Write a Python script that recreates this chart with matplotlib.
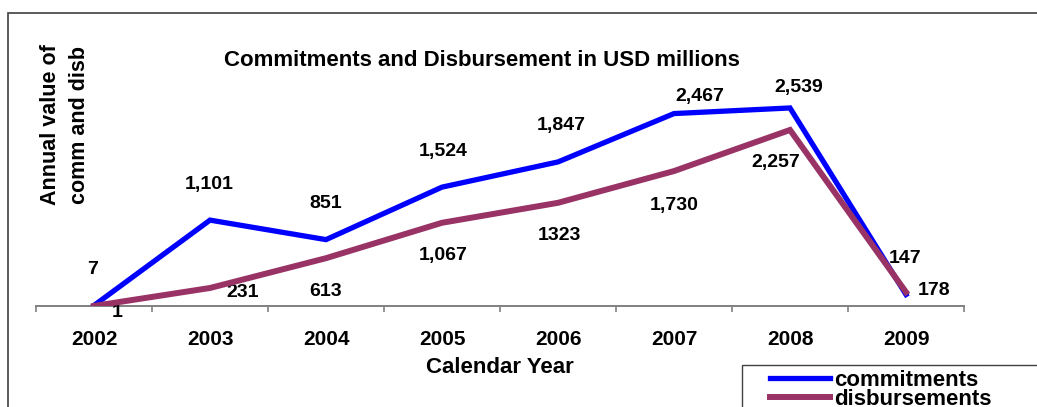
import matplotlib.pyplot as plt
from matplotlib.patches import Rectangle

plt.rcParams["font.family"] = ["Liberation Sans", "DejaVu Sans"]
plt.rcParams["font.weight"] = "bold"

years = ["2002", "2003", "2004", "2005", "2006", "2007", "2008", "2009"]
commitments = [7, 1101, 851, 1524, 1847, 2467, 2539, 147]
disbursements = [1, 231, 613, 1067, 1323, 1730, 2257, 178]
commit_labels = ["7", "1,101", "851", "1,524", "1,847", "2,467", "2,539", "147"]
disb_labels = ["1", "231", "613", "1,067", "1323", "1,730", "2,257", "178"]

# label offsets in pixels (dx, dy) relative to each point
commit_offsets = [(-1, 36), (-1, 36), (0, 36), (1, 36), (3, 36), (26, 17), (9, 20), (-1, 36)]
disb_offsets = [(23, -7), (33, -5), (0, -33), (1, -33), (1, -33), (0, -34), (-14, -33), (28, 2)]

BLUE = "#0000FF"
PLUM = "#993366"
W, H = 1037, 407

fig = plt.figure(figsize=(W / 100, H / 100), dpi=100)
ax = fig.add_axes([36 / W, 1 - 306 / H, 928 / W, 234 / H])

x = list(range(len(years)))
ax.plot(x, commitments, color=BLUE, lw=3.8, solid_joinstyle="miter", label="commitments", zorder=3)
ax.plot(x, disbursements, color=PLUM, lw=4.3, solid_joinstyle="miter", label="disbursements", zorder=4)

px = 0.72
for i, (v, t) in enumerate(zip(commitments, commit_labels)):
    dx, dy = commit_offsets[i]
    ax.annotate(t, (i, v), xytext=(dx * px, dy * px), textcoords="offset points",
                ha="center", va="center", fontsize=14, fontweight="bold", annotation_clip=False)
for i, (v, t) in enumerate(zip(disbursements, disb_labels)):
    dx, dy = disb_offsets[i]
    ax.annotate(t, (i, v), xytext=(dx * px, dy * px), textcoords="offset points",
                ha="center", va="center", fontsize=14, fontweight="bold", annotation_clip=False)

ax.set_xlim(-0.5, len(years) - 0.5)
ax.set_ylim(0, 3000)
for side in ["top", "right", "left"]:
    ax.spines[side].set_visible(False)
ax.spines["bottom"].set_color("#808080")
ax.spines["bottom"].set_linewidth(1.4)
ax.set_yticks([])
ax.set_xticks(x)
ax.set_xticklabels(years, fontsize=15, fontweight="bold")
ax.set_xticks([i - 0.5 for i in range(len(years) + 1)], minor=True)
ax.tick_params(axis="x", which="major", length=0, pad=17)
ax.tick_params(axis="x", which="minor", length=4.3, width=1.2, color="#808080")
ax.set_xlabel("Calendar Year", fontsize=16, fontweight="bold", labelpad=6)

fig.text(482 / W, 1 - 61 / H, "Commitments and Disbursement in USD millions",
         ha="center", va="center", fontsize=16, fontweight="bold")
fig.text(65 / W, 1 - 125 / H, "Annual value of\ncomm and disb", rotation=90,
         ha="center", va="center", fontsize=15.5, fontweight="bold", linespacing=1.45)

# outer chart border and legend box (both run off the canvas)
fig.patches.append(Rectangle((8 / W, -0.5), 2, 1.5 - 13 / H, transform=fig.transFigure,
                             fill=False, edgecolor="#404040", lw=1.2))
fig.patches.append(Rectangle((742 / W, -0.5), 1, 0.5 + (1 - 365 / H),
                             transform=fig.transFigure, fill=False, edgecolor="#404040", lw=1.0))

leg = fig.legend(loc="upper left", bbox_to_anchor=(770 / W, 1 - 370 / H), frameon=False,
                 fontsize=16, handlelength=2.7, handletextpad=0.2, labelspacing=-0.1,
                 borderpad=0.0, borderaxespad=0.0)

fig.savefig("out.png", dpi=100)
